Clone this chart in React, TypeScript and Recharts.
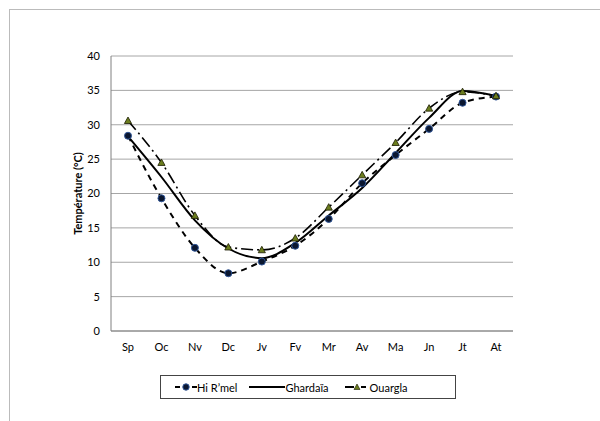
import { LineChart, Line, XAxis, YAxis, CartesianGrid } from 'recharts';

const months = ['Sp', 'Oc', 'Nv', 'Dc', 'Jv', 'Fv', 'Mr', 'Av', 'Ma', 'Jn', 'Jt', 'At'];
const hiRmel = [28.4, 19.3, 12.1, 8.4, 10.1, 12.4, 16.3, 21.5, 25.6, 29.4, 33.2, 34.1];
const ghardaia = [28.3, 22.4, 16.1, 12.0, 10.6, 12.8, 16.8, 20.8, 25.9, 31.0, 34.9, 34.2];
const ouargla = [30.6, 24.5, 16.8, 12.2, 11.8, 13.5, 18.0, 22.7, 27.4, 32.4, 34.8, 34.2];
const yTicks = [0, 5, 10, 15, 20, 25, 30, 35, 40];

const data = months.map((m, i) => ({
  month: m,
  hiRmel: hiRmel[i],
  ghardaia: ghardaia[i],
  ouargla: ouargla[i],
}));

const FONT = 'Lato, "Open Sans", sans-serif';

const CircleDot = (props: any) => {
  const { cx, cy } = props;
  if (cx == null || cy == null) return null;
  return <circle cx={cx} cy={cy} r={3.5} fill="#0b1730" stroke="#2f5597" strokeWidth={1} />;
};

const TriangleDot = (props: any) => {
  const { cx, cy } = props;
  if (cx == null || cy == null) return null;
  const s = 3.6;
  return (
    <polygon
      points={`${cx},${cy - s} ${cx - s},${cy + s * 0.8} ${cx + s},${cy + s * 0.8}`}
      fill="#6b7d1e"
      stroke="#1a1a00"
      strokeWidth={0.8}
    />
  );
};

const YLabel = (props: any) => {
  const vb = props.viewBox || { y: 56, height: 275 };
  const cy = vb.y + vb.height / 2;
  return (
    <text
      x={77}
      y={cy}
      transform={`rotate(-90, 77, ${cy})`}
      textAnchor="middle"
      dominantBaseline="central"
      fontFamily={FONT}
      fontWeight="bold"
      fontSize={11}
      fill="#000"
    >
      Température (°C)
    </text>
  );
};

const LegendBox = () => (
  <div
    style={{
      position: 'absolute',
      left: 160,
      top: 375,
      width: 296,
      height: 24,
      border: '1px solid #444',
      background: '#fff',
      fontFamily: FONT,
      fontSize: 11,
      display: 'flex',
      alignItems: 'center',
      boxSizing: 'border-box',
      whiteSpace: 'nowrap',
    }}
  >
    <svg width={22} height={12} style={{ marginLeft: 14 }}>
      <line x1={0} y1={6} x2={22} y2={6} stroke="#000" strokeWidth={2} strokeDasharray="5 12" />
      <circle cx={11} cy={6} r={3.2} fill="#0b1730" stroke="#2f5597" strokeWidth={1} />
    </svg>
    <span style={{ marginLeft: 0 }}>Hi R’mel</span>
    <svg width={36} height={12} style={{ marginLeft: 12 }}>
      <line x1={0} y1={6} x2={36} y2={6} stroke="#000" strokeWidth={2} />
    </svg>
    <span>Ghardaïa</span>
    <svg width={24} height={12} style={{ marginLeft: 16 }}>
      <line x1={0} y1={6} x2={24} y2={6} stroke="#000" strokeWidth={2} strokeDasharray="9 3 1 3 5 40" />
      <polygon points="12,3 9,8.5 15,8.5" fill="#6b7d1e" stroke="#1a1a00" strokeWidth={0.6} />
    </svg>
    <span style={{ marginLeft: 1 }}>Ouargla</span>
  </div>
);

export default function App() {
  return (
    <div style={{ position: 'absolute', left: 0, top: 0, width: 600, height: 421, background: '#fff', overflow: 'hidden' }}>
      <div
        style={{
          position: 'absolute',
          left: 9,
          top: 9,
          width: 600,
          height: 430,
          borderLeft: '1.5px solid #bbb',
          borderTop: '1.5px solid #bbb',
        }}
      />
      <div style={{ position: 'absolute', left: 0, top: 0 }}>
        <LineChart width={600} height={421} data={data} margin={{ top: 56, right: 87, bottom: 0, left: 0 }}>
          <CartesianGrid vertical={false} stroke="#a6a6a6" strokeWidth={1} />
          <XAxis
            dataKey="month"
            tickLine={false}
            axisLine={{ stroke: '#808080', strokeWidth: 1 }}
            tickSize={10}
            tickMargin={2}
            height={90}
            padding={{ left: 17, right: 17 }}
            tick={{ fontSize: 11, fontFamily: FONT, fill: '#000' }}
            interval={0}
          />
          <XAxis xAxisId="top" orientation="top" dataKey="month" height={0} tick={false} tickLine={false} axisLine={{ stroke: '#595959' }} />
          <YAxis
            domain={[0, 40]}
            ticks={yTicks}
            width={111}
            tickLine={false}
            axisLine={{ stroke: '#808080', strokeWidth: 1 }}
            tickSize={9}
            tickMargin={2}
            tick={{ fontSize: 11, fontFamily: FONT, fill: '#000' }}
            label={<YLabel />}
          />
          <YAxis yAxisId="right" orientation="right" width={0} domain={[0, 40]} tick={false} tickLine={false} axisLine={{ stroke: '#595959' }} />
          <Line
            type="monotone"
            dataKey="hiRmel"
            name="Hi R’mel"
            stroke="#000"
            strokeWidth={2}
            strokeDasharray="6 5"
            dot={<CircleDot />}
            isAnimationActive={false}
          />
          <Line
            type="monotone"
            dataKey="ghardaia"
            name="Ghardaïa"
            stroke="#000"
            strokeWidth={2}
            dot={false}
            isAnimationActive={false}
          />
          <Line
            type="monotone"
            dataKey="ouargla"
            name="Ouargla"
            stroke="#000"
            strokeWidth={1.6}
            strokeDasharray="12 4 2 4"
            dot={<TriangleDot />}
            isAnimationActive={false}
          />
        </LineChart>
      </div>
      <LegendBox />
    </div>
  );
}
